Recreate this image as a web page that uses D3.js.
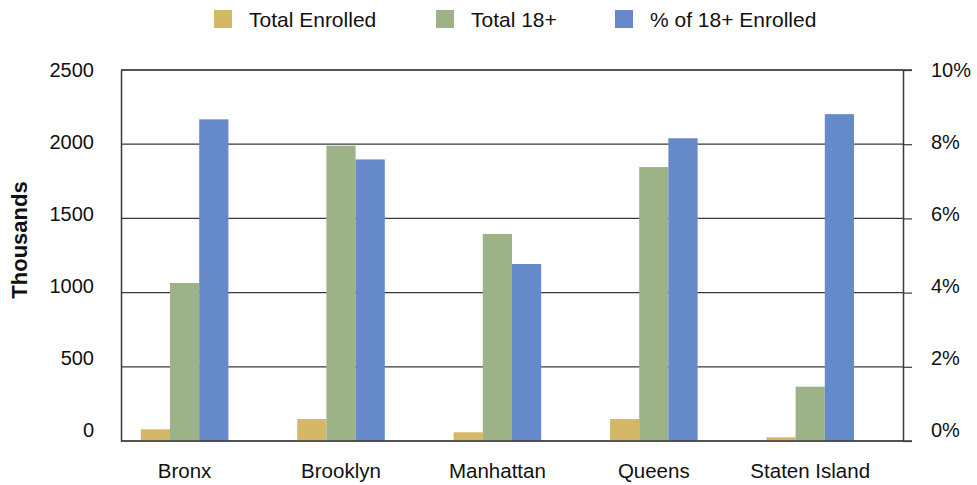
<!DOCTYPE html>
<html>
<head>
<meta charset="utf-8">
<script src="https://cdn.jsdelivr.net/npm/d3@7"></script>
<style>
  body { margin: 0; background: #fff; }
  text { font-family: "Liberation Sans", Arial, Helvetica, sans-serif; fill: #111; }
</style>
</head>
<body>
<svg id="chart" width="977" height="485"></svg>
<script>
const categories = ["Bronx", "Brooklyn", "Manhattan", "Queens", "Staten Island"];
const seriesNames = ["Total Enrolled", "Total 18+", "% of 18+ Enrolled"];
const totalEnrolled = [79, 148, 59, 148, 25];          // thousands
const total18 = [1065, 1990, 1395, 1846, 366];         // thousands
const pctEnrolled = [8.67, 7.59, 4.77, 8.16, 8.81];    // percent
const leftTicks = [0, 500, 1000, 1500, 2000, 2500];
const rightTicks = [0, 2, 4, 6, 8, 10];
const colors = ["#d5b867", "#9db387", "#6689c9"];

const svg = d3.select("#chart");
const L = 121, R = 903, T = 70, B = 441;

const x0 = d3.scaleBand().domain(categories).range([L, R]).paddingInner(0.253).paddingOuter(0.1265);
const x1 = d3.scaleBand().domain(seriesNames).range([0, x0.bandwidth() * 0.75]);
const yL = d3.scaleLinear().domain([0, 2500]).range([B, T]);
const yR = d3.scaleLinear().domain([0, 10]).range([B, T]);
// label positions (labels in the reference sit slightly above the gridlines)
const yLabL = d3.scaleLinear().domain([0, 2500]).range([430, 70]);
const yLabR = d3.scaleLinear().domain([0, 10]).range([430, 70]);

// gridlines
svg.append("g").selectAll("line").data(leftTicks).join("line")
  .attr("x1", L).attr("x2", R)
  .attr("y1", d => yL(d)).attr("y2", d => yL(d))
  .attr("stroke", "#3a3a3a").attr("stroke-width", 1.2);

// bars
const rows = categories.map((c, i) => ({ c, vals: [
  { s: seriesNames[0], v: totalEnrolled[i], y: yL },
  { s: seriesNames[1], v: total18[i], y: yL },
  { s: seriesNames[2], v: pctEnrolled[i], y: yR }
]}));
const g = svg.append("g").selectAll("g").data(rows).join("g")
  .attr("transform", d => `translate(${x0(d.c)},0)`);
g.selectAll("rect").data(d => d.vals).join("rect")
  .attr("x", d => x1(d.s))
  .attr("width", x1.bandwidth())
  .attr("y", d => d.y(d.v))
  .attr("height", d => B - d.y(d.v))
  .attr("fill", (d, i) => colors[i]);

// left axis line
svg.append("g").attr("transform", `translate(${L},0)`)
  .call(d3.axisLeft(yL).tickValues(leftTicks).tickSize(0).tickSizeOuter(0).tickFormat(""))
  .call(s => s.select(".domain").attr("stroke", "#3a3a3a").attr("stroke-width", 1.5));
// left labels
svg.append("g").attr("transform", `translate(${L - 27},0)`)
  .call(d3.axisLeft(yLabL).tickValues(leftTicks).tickSize(0).tickPadding(0).tickFormat(d3.format("d")))
  .call(s => s.select(".domain").remove())
  .call(s => s.selectAll("text").attr("font-size", 20).attr("font-family", "Liberation Sans, Arial, sans-serif").attr("fill", "#111"));

// right axis
svg.append("g").attr("transform", `translate(${R},0)`)
  .call(d3.axisRight(yR).tickValues(rightTicks).tickSize(9).tickSizeOuter(0).tickFormat(""))
  .call(s => s.select(".domain").attr("stroke", "#3a3a3a").attr("stroke-width", 1.5))
  .call(s => s.selectAll(".tick line").attr("stroke", "#3a3a3a").attr("stroke-width", 1.2));
svg.append("g").attr("transform", `translate(${R + 28},0)`)
  .call(d3.axisRight(yLabR).tickValues(rightTicks).tickSize(0).tickPadding(0).tickFormat(d => d + "%"))
  .call(s => s.select(".domain").remove())
  .call(s => s.selectAll("text").attr("font-size", 20).attr("font-family", "Liberation Sans, Arial, sans-serif").attr("fill", "#111"));

// bottom baseline and top frame line
svg.append("line").attr("x1", L).attr("x2", R + 9).attr("y1", B).attr("y2", B)
  .attr("stroke", "#3a3a3a").attr("stroke-width", 1.5);
svg.append("line").attr("x1", L).attr("x2", R + 9).attr("y1", T).attr("y2", T)
  .attr("stroke", "#3a3a3a").attr("stroke-width", 1.5);

// category labels
svg.append("g").selectAll("text").data(categories).join("text")
  .attr("x", c => x0(c) + x1.bandwidth() * 1.5)
  .attr("y", 478)
  .attr("text-anchor", "middle")
  .attr("font-size", 20.5)
  .text(c => c);

// y title
svg.append("text")
  .attr("transform", `translate(27,240) rotate(-90)`)
  .attr("text-anchor", "middle")
  .attr("font-size", 22)
  .attr("font-weight", "bold")
  .text("Thousands");

// legend
const legendX = [214, 436, 615];
const lg = svg.append("g").selectAll("g").data(seriesNames).join("g")
  .attr("transform", (d, i) => `translate(${legendX[i]},10)`);
lg.append("rect").attr("width", 18).attr("height", 18).attr("fill", (d, i) => colors[i]);
lg.append("text").attr("x", 35).attr("y", 16.5).attr("font-size", 21).text(d => d);
</script>
</body>
</html>
